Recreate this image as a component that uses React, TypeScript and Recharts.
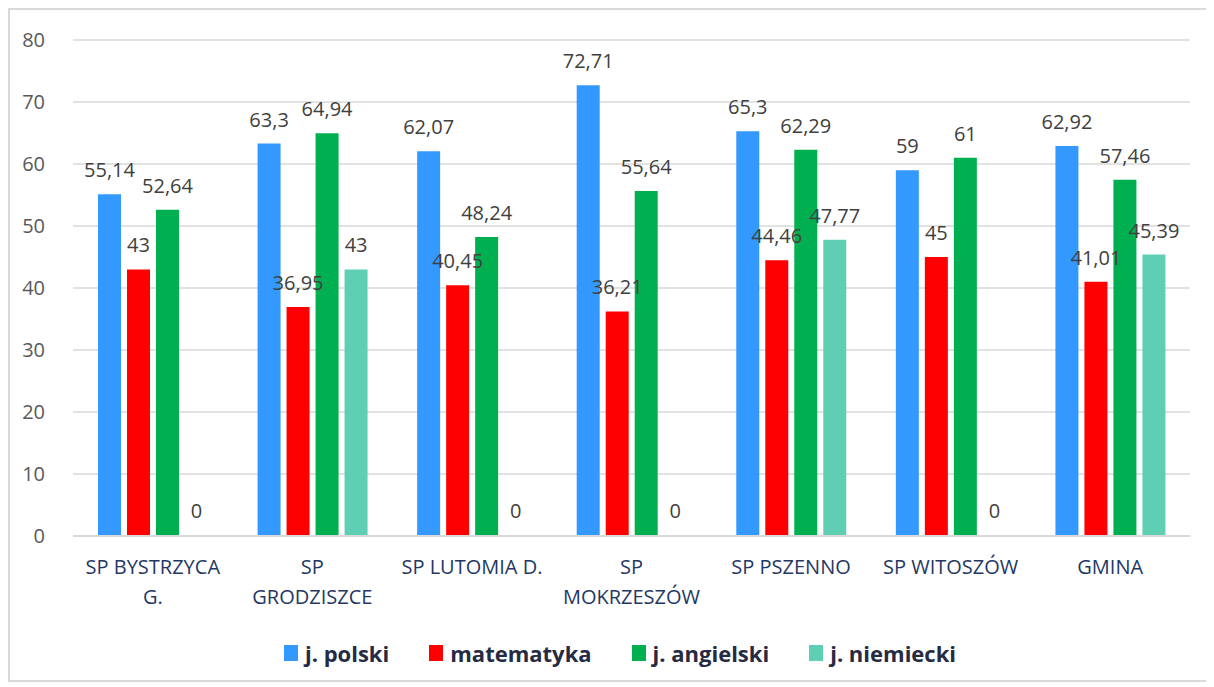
import { BarChart, Bar, XAxis, YAxis, CartesianGrid, Legend, LabelList, Rectangle } from 'recharts'

const schools = [
  'SP BYSTRZYCA G.', 'SP GRODZISZCE', 'SP LUTOMIA D.', 'SP MOKRZESZÓW',
  'SP PSZENNO', 'SP WITOSZÓW', 'GMINA',
]
// how the category names break onto lines under the axis
const schoolLines = [
  ['SP BYSTRZYCA', 'G.'], ['SP', 'GRODZISZCE'], ['SP LUTOMIA D.'], ['SP', 'MOKRZESZÓW'],
  ['SP PSZENNO'], ['SP WITOSZÓW'], ['GMINA'],
]
const polski = [55.14, 63.3, 62.07, 72.71, 65.3, 59, 62.92]
const matematyka = [43, 36.95, 40.45, 36.21, 44.46, 45, 41.01]
const angielski = [52.64, 64.94, 48.24, 55.64, 62.29, 61, 57.46]
const niemiecki = [0, 43, 0, 0, 47.77, 0, 45.39]
const yTicks = [0, 10, 20, 30, 40, 50, 60, 70, 80]

const series = [
  { key: 'polski', name: 'j. polski', color: '#3399ff' },
  { key: 'matematyka', name: 'matematyka', color: '#ff0000' },
  { key: 'angielski', name: 'j. angielski', color: '#00b050' },
  { key: 'niemiecki', name: 'j. niemiecki', color: '#5fcfb3' },
]

const data = schools.map((school, i) => ({
  school,
  polski: polski[i],
  matematyka: matematyka[i],
  angielski: angielski[i],
  niemiecki: niemiecki[i],
}))

const FONT = '"Open Sans", sans-serif'

const fmt = (v: any) => String(v).replace('.', ',')

function SchoolTick({ x, y, index }: any) {
  const lines = schoolLines[index] || []
  return (
    <text x={x} y={y} textAnchor="middle" fill="#1f3864" fontSize={20} fontFamily={FONT}>
      {lines.map((l, i) => (
        <tspan key={i} x={x} dy={i === 0 ? 22 : 30}>{l}</tspan>
      ))}
    </text>
  )
}

function LegendRow() {
  return (
    <div style={{ display: 'flex', justifyContent: 'center', alignItems: 'center', gap: 40, fontFamily: FONT }}>
      {series.map(s => (
        <div key={s.key} style={{ display: 'flex', alignItems: 'center' }}>
          <span style={{ width: 14, height: 16, background: s.color, display: 'inline-block', marginRight: 7 }} />
          <span style={{ fontSize: 22, fontWeight: 700, color: '#262b44' }}>{s.name}</span>
        </div>
      ))}
    </div>
  )
}

// zero values keep their label but draw no bar
const BarShape = (props: any) => {
  if (!props.value && props.value !== undefined) return <g />
  if (props.payload && props.payload[props.dataKey] === 0) return <g />
  return <Rectangle {...props} />
}

export default function App() {
  return (
    <div style={{ width: 1200, height: 670, border: '2px solid #d9d9d9', background: '#fff' }}>
      <BarChart
        width={1200}
        height={670}
        data={data}
        margin={{ top: 30, right: 20, left: 0, bottom: 0 }}
        barCategoryGap={25}
        barGap={6}
      >
        <CartesianGrid vertical={false} stroke="#d9d9d9" strokeWidth={1.5} />
        <XAxis
          dataKey="school"
          tick={<SchoolTick />}
          tickLine={false}
          axisLine={{ stroke: '#d9d9d9', strokeWidth: 2 }}
          tickMargin={10}
          height={144}
          interval={0}
        />
        <YAxis
          domain={[0, 80]}
          ticks={yTicks}
          width={63}
          axisLine={false}
          tickLine={false}
          tickMargin={22}
          tick={{ fill: '#595959', fontSize: 20, fontFamily: FONT }}
        />
        <Legend
          layout="horizontal"
          verticalAlign="middle"
          align="center"
          content={<LegendRow />}
          wrapperStyle={{ top: 628, left: 10, width: 1200 }}
        />
        {series.map(s => (
          <Bar
            key={s.key}
            dataKey={s.key}
            name={s.name}
            fill={s.color}
            minPointSize={1}
            shape={BarShape}
            isAnimationActive={false}
          >
            <LabelList
              dataKey={s.key}
              position="top"
              offset={17}
              formatter={fmt}
              style={{ fill: '#404040', fontSize: 20, fontFamily: FONT }}
            />
          </Bar>
        ))}
      </BarChart>
    </div>
  )
}
